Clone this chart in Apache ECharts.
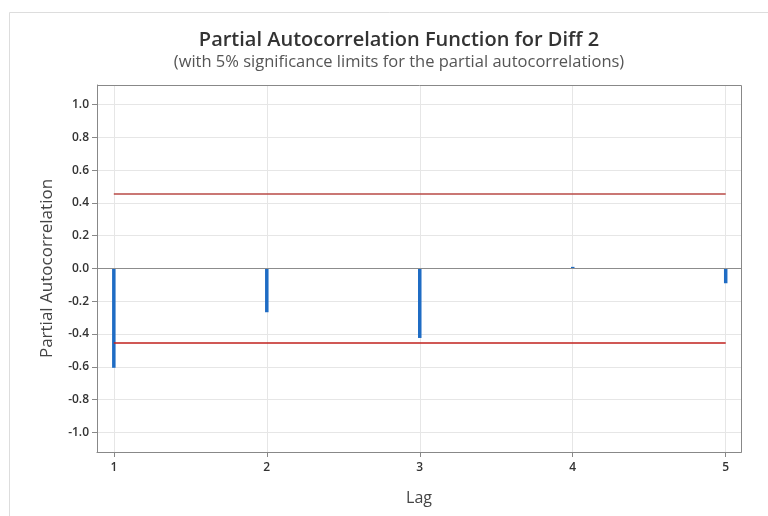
<!DOCTYPE html>
<html>
<head>
<meta charset="utf-8">
<script src="https://cdn.jsdelivr.net/npm/echarts@6/dist/echarts.min.js"></script>
<style>
  html, body { margin: 0; padding: 0; background: #fff; }
  #chart { width: 768px; height: 516px; }
</style>
</head>
<body>
<div id="chart"></div>
<script>
// Partial autocorrelations by lag
const lags = [1, 2, 3, 4, 5];
const pacf = [-0.606, -0.267, -0.424, 0.01, -0.09];
// 5% significance limits
const upperLimit = 0.455;
const lowerLimit = -0.455;
// Axis ticks
const yTicks = [-1.0, -0.8, -0.6, -0.4, -0.2, 0.0, 0.2, 0.4, 0.6, 0.8, 1.0];
const xTicks = [1, 2, 3, 4, 5];

const chart = echarts.init(document.getElementById('chart'), null, { renderer: 'canvas' });

const fontFamily = '"Open Sans", "Noto Sans", sans-serif';
const X_MIN = 0.89, X_MAX = 5.1, Y_MIN = -1.12, Y_MAX = 1.12;

chart.setOption({
  animation: false,
  backgroundColor: '#ffffff',
  title: {
    text: 'Partial Autocorrelation Function for Diff 2',
    subtext: '(with 5% significance limits for the partial autocorrelations)',
    left: 394,
    textAlign: 'center',
    top: 25,
    itemGap: 4,
    textStyle: { fontFamily: fontFamily, fontSize: 20, fontWeight: 600, color: '#333333' },
    subtextStyle: { fontFamily: fontFamily, fontSize: 16.5, color: '#555555' }
  },
  grid: { left: 97, right: 27, top: 85, bottom: 64 },
  xAxis: {
    type: 'value',
    min: X_MIN,
    max: X_MAX,
    name: 'Lag',
    nameLocation: 'middle',
    nameGap: 38,
    nameTextStyle: { fontFamily: fontFamily, fontSize: 16, color: '#444444' },
    axisLine: { show: true, onZero: false, lineStyle: { color: '#888888' } },
    axisTick: { show: true, customValues: xTicks, length: 5, lineStyle: { color: '#888888' } },
    axisLabel: {
      customValues: xTicks,
      fontFamily: fontFamily, fontSize: 12, fontWeight: 600, color: '#333333', margin: 10,
      formatter: v => String(v)
    },
    splitLine: { show: true, lineStyle: { color: '#e6e6e6' } }
  },
  yAxis: {
    type: 'value',
    min: Y_MIN,
    max: Y_MAX,
    name: 'Partial Autocorrelation',
    nameLocation: 'middle',
    nameGap: 41,
    nameTextStyle: { fontFamily: fontFamily, fontSize: 17, color: '#444444' },
    axisLine: { show: true, lineStyle: { color: '#888888' } },
    axisTick: { show: true, customValues: yTicks, length: 5, lineStyle: { color: '#888888' } },
    axisLabel: {
      customValues: yTicks,
      fontFamily: fontFamily, fontSize: 12, fontWeight: 600, color: '#333333', margin: 8,
      formatter: v => v.toFixed(1)
    },
    splitLine: { show: true, lineStyle: { color: '#e6e6e6' } }
  },
  series: [
    {
      // zero reference line across the plot
      type: 'line',
      data: [],
      markLine: {
        silent: true,
        symbol: 'none',
        label: { show: false },
        lineStyle: { color: '#8c8c8c', width: 1, type: 'solid' },
        data: [{ yAxis: 0 }]
      }
    },
    {
      type: 'bar',
      data: lags.map((l, i) => [l, pacf[i]]),
      barWidth: 3.5,
      itemStyle: { color: '#1f6cc4' },
      z: 3
    },
    {
      type: 'line',
      data: [[lags[0], upperLimit], [lags[lags.length - 1], upperLimit]],
      symbol: 'none',
      lineStyle: { color: '#b84a46', width: 1.5 },
      z: 4
    },
    {
      type: 'line',
      data: [[lags[0], lowerLimit], [lags[lags.length - 1], lowerLimit]],
      symbol: 'none',
      lineStyle: { color: '#c0201c', width: 1.5 },
      z: 4
    }
  ]
});

// Outer frame and plot-area border
const tl = chart.convertToPixel({ gridIndex: 0 }, [X_MIN, Y_MAX]);
const br = chart.convertToPixel({ gridIndex: 0 }, [X_MAX, Y_MIN]);
chart.setOption({
  graphic: [
    {
      type: 'polyline',
      shape: { points: [[9.5, 530], [9.5, 12.5], [780, 12.5]] },
      style: { stroke: '#dddddd', lineWidth: 1, fill: null },
      silent: true
    },
    {
      type: 'rect',
      shape: { x: Math.round(tl[0]) + 0.5, y: Math.round(tl[1]) + 0.5, width: Math.round(br[0] - tl[0]), height: Math.round(br[1] - tl[1]) },
      style: { stroke: '#888888', lineWidth: 1, fill: null },
      silent: true,
      z: 10
    }
  ]
});
</script>
</body>
</html>
